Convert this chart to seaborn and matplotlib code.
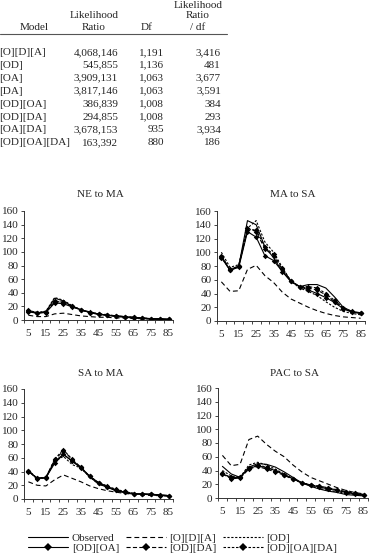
import matplotlib
matplotlib.use("Agg")
import matplotlib.pyplot as plt
import seaborn as sns
import pandas as pd

sns.set_style("white")
plt.rcParams['font.family'] = ['Liberation Serif', 'DejaVu Serif']
plt.rcParams['lines.scale_dashes'] = False

# --- table data ---
table_models = ["[O][D][A]", "[OD]", "[OA]", "[DA]", "[OD][OA]", "[OD][DA]", "[OA][DA]", "[OD][OA][DA]"]
table_lr = ["4,068,146", "545,855", "3,909,131", "3,817,146", "386,839", "294,855", "3,678,153", "163,392"]
table_df = ["1,191", "1,136", "1,063", "1,063", "1,008", "1,008", "935", "880"]
table_ratio = ["3,416", "481", "3,677", "3,591", "384", "293", "3,934", "186"]

# --- chart data ---
ages = [5, 10, 15, 20, 25, 30, 35, 40, 45, 50, 55, 60, 65, 70, 75, 80, 85]
models = ["Observed", "[O][D][A]", "[OD]", "[OD][OA]", "[OD][DA]", "[OD][OA][DA]"]
panels = ["NE to MA", "MA to SA", "SA to MA", "PAC to SA"]

ne_ma = {
    "Observed":     [13, 10, 12, 32, 28, 20, 15, 11, 8, 7, 5, 4, 3, 2, 1.5, 1, 1],
    "[O][D][A]":    [7, 5, 5, 9, 10, 8, 6, 5, 4, 4, 3, 3, 2, 2, 1.5, 1, 0.8],
    "[OD]":         [14, 11, 13, 33, 29, 21, 15, 11, 9, 7, 6, 4, 3, 2.5, 2, 1.5, 1],
    "[OD][OA]":     [12, 10, 11, 25, 24, 19, 15, 11, 9, 7, 6, 5, 4, 3, 2, 1.5, 1],
    "[OD][DA]":     [14, 11, 12, 27, 26, 20, 15, 12, 9, 8, 6, 5, 4, 3, 2, 1.5, 1],
    "[OD][OA][DA]": [13, 10, 12, 28, 26, 20, 15, 11, 9, 7, 6, 5, 3.5, 2.5, 2, 1.5, 1],
}
ma_sa = {
    "Observed":     [95, 73, 80, 146, 140, 108, 92, 72, 57, 50, 53, 53, 48, 35, 20, 14, 12],
    "[O][D][A]":    [57, 43, 44, 75, 81, 66, 56, 42, 32, 26, 20, 15, 11, 8, 6, 5, 4],
    "[OD]":         [100, 78, 82, 135, 146, 115, 100, 78, 58, 48, 43, 37, 28, 20, 14, 11, 9],
    "[OD][OA]":     [92, 74, 78, 130, 122, 95, 88, 72, 58, 50, 45, 40, 34, 27, 18, 13, 11],
    "[OD][DA]":     [95, 75, 80, 135, 130, 105, 95, 75, 58, 50, 48, 45, 38, 28, 18, 13, 11],
    "[OD][OA][DA]": [93, 74, 80, 132, 133, 107, 97, 77, 58, 50, 50, 48, 40, 30, 19, 14, 11],
}
sa_ma = {
    "Observed":     [41, 30, 31, 55, 65, 55, 45, 32, 22, 17, 12, 9, 7, 7, 7, 5, 5],
    "[O][D][A]":    [25, 20, 19, 28, 35, 30, 25, 19, 15, 12, 10, 8, 7, 6, 5, 5, 4],
    "[OD]":         [42, 30, 31, 55, 62, 50, 45, 32, 22, 17, 12, 9, 8, 7, 6, 5, 5],
    "[OD][OA]":     [40, 30, 31, 52, 65, 55, 46, 33, 24, 18, 13, 10, 8, 7, 7, 6, 5],
    "[OD][DA]":     [41, 30, 32, 57, 70, 58, 46, 33, 23, 18, 13, 10, 8, 7, 7, 6, 5],
    "[OD][OA][DA]": [41, 29, 31, 58, 72, 57, 45, 33, 24, 19, 14, 11, 8, 7, 7, 5, 5],
}
pac_sa = {
    "Observed":     [46, 35, 30, 45, 50, 49, 45, 38, 30, 22, 17, 13, 10, 8, 5, 4, 3],
    "[O][D][A]":    [62, 47, 49, 85, 90, 78, 68, 60, 48, 38, 30, 25, 20, 15, 11, 8, 6],
    "[OD]":         [40, 32, 30, 48, 52, 48, 42, 35, 28, 22, 18, 14, 11, 9, 7, 5, 4],
    "[OD][OA]":     [35, 30, 30, 43, 47, 44, 40, 34, 28, 22, 19, 16, 13, 11, 8, 6, 4],
    "[OD][DA]":     [35, 28, 29, 42, 46, 42, 38, 33, 27, 22, 19, 17, 15, 12, 9, 7, 5],
    "[OD][OA][DA]": [36, 29, 30, 44, 48, 45, 40, 34, 28, 22, 19, 17, 14, 12, 9, 7, 5],
}
panel_data = [ne_ma, ma_sa, sa_ma, pac_sa]

rows = []
for pname, pdata in zip(panels, panel_data):
    for m in models:
        for a, v in zip(ages, pdata[m]):
            rows.append({"panel": pname, "model": m, "age": a, "value": v})
df = pd.DataFrame(rows)

styles = {
    "Observed":     dict(linestyle="-", marker=None),
    "[O][D][A]":    dict(linestyle=(0, (3.5, 2.2)), marker=None),
    "[OD]":         dict(linestyle=(0, (1.6, 1.2)), marker=None),
    "[OD][OA]":     dict(linestyle="-", marker="D"),
    "[OD][DA]":     dict(linestyle=(0, (3.0, 1.6)), marker="D"),
    "[OD][OA][DA]": dict(linestyle=(0, (1.8, 1.2)), marker="D"),
}

W, H = 373, 558
fig = plt.figure(figsize=(W / 100, H / 100), dpi=100)
fs = 8

def fx(px):
    return px / W

def fy(py):
    return 1 - py / H

# --- table ---
fig.text(fx(198), fy(5), "Likelihood", ha="center", va="center", fontsize=fs)
fig.text(fx(198), fy(16), "Ratio", ha="center", va="center", fontsize=fs)
fig.text(fx(198), fy(27), "/ df", ha="center", va="center", fontsize=fs)
fig.text(fx(94), fy(15), "Likelihood", ha="center", va="center", fontsize=fs)
fig.text(fx(94), fy(27), "Ratio", ha="center", va="center", fontsize=fs)
fig.text(fx(147), fy(27), "Df", ha="center", va="center", fontsize=fs)
fig.text(fx(34), fy(27), "Model", ha="center", va="center", fontsize=fs)
fig.add_artist(plt.Line2D([fx(0), fx(227)], [fy(33.5), fy(33.5)], color="#555555", lw=0.8))
for i in range(len(table_models)):
    y = fy(52.3 + i * 12.95)
    fig.text(fx(-1), y, table_models[i], ha="left", va="center", fontsize=fs)
    fig.text(fx(118), y, table_lr[i], ha="right", va="center", fontsize=fs)
    fig.text(fx(164), y, table_df[i], ha="right", va="center", fontsize=fs)
    fig.text(fx(221), y, table_ratio[i], ha="right", va="center", fontsize=fs)

# --- panels ---
boxes = [(24, 173, 211, 320), (217, 365, 211, 321), (24, 173, 389, 499), (218, 368, 388, 498)]
title_y = [194, 194, 374, 374]
for k, (pname, (l, r, t, b)) in enumerate(zip(panels, boxes)):
    ax = fig.add_axes([fx(l), fy(b), fx(r - l), (b - t) / H])
    sub = df[df["panel"] == pname]
    for m in models:
        st = styles[m]
        d = sub[sub["model"] == m]
        sns.lineplot(data=d, x="age", y="value", ax=ax, color="black", lw=0.8,
                     linestyle=st["linestyle"], marker=st["marker"], markersize=2.8,
                     markeredgewidth=0, errorbar=None, label=m, legend=False)
    ax.set_xlim(2.5, 87.5)
    ax.set_ylim(0, 160)
    ax.set_yticks(range(0, 161, 20))
    ax.set_xticks([5, 15, 25, 35, 45, 55, 65, 75, 85])
    ax.set_xticks([2.5 + 5 * j for j in range(18)], minor=True)
    ax.tick_params(axis="x", which="major", length=0, pad=6.5, labelsize=fs)
    ax.tick_params(axis="x", which="minor", length=2.5, width=0.6, direction="out", bottom=True)
    ax.tick_params(axis="y", length=2.5, width=0.6, direction="out", left=True, pad=1.5, labelsize=fs)
    ax.set_xlabel("")
    ax.set_ylabel("")
    for s in ["top", "right"]:
        ax.spines[s].set_visible(False)
    for s in ["left", "bottom"]:
        ax.spines[s].set_linewidth(0.7)
        ax.spines[s].set_color("#333333")
    ax.patch.set_alpha(0)
    fig.text(fx((l + r) / 2 + 2), fy(title_y[k]), pname, ha="center", va="center", fontsize=fs)

# --- legend ---
handles = []
for m in models:
    st = styles[m]
    handles.append(plt.Line2D([], [], color="black", lw=0.8, linestyle=st["linestyle"],
                              marker=st["marker"], markersize=4.5, markeredgewidth=0))
order = [0, 3, 1, 4, 2, 5]
fig.legend([handles[i] for i in order], [models[i] for i in order], ncol=3,
           loc="center", bbox_to_anchor=(fx(183), fy(543)), frameon=False,
           fontsize=fs, handlelength=3.6, handletextpad=0.3, columnspacing=0.6,
           labelspacing=0.0, borderpad=0)

fig.savefig("out.png", dpi=100)
